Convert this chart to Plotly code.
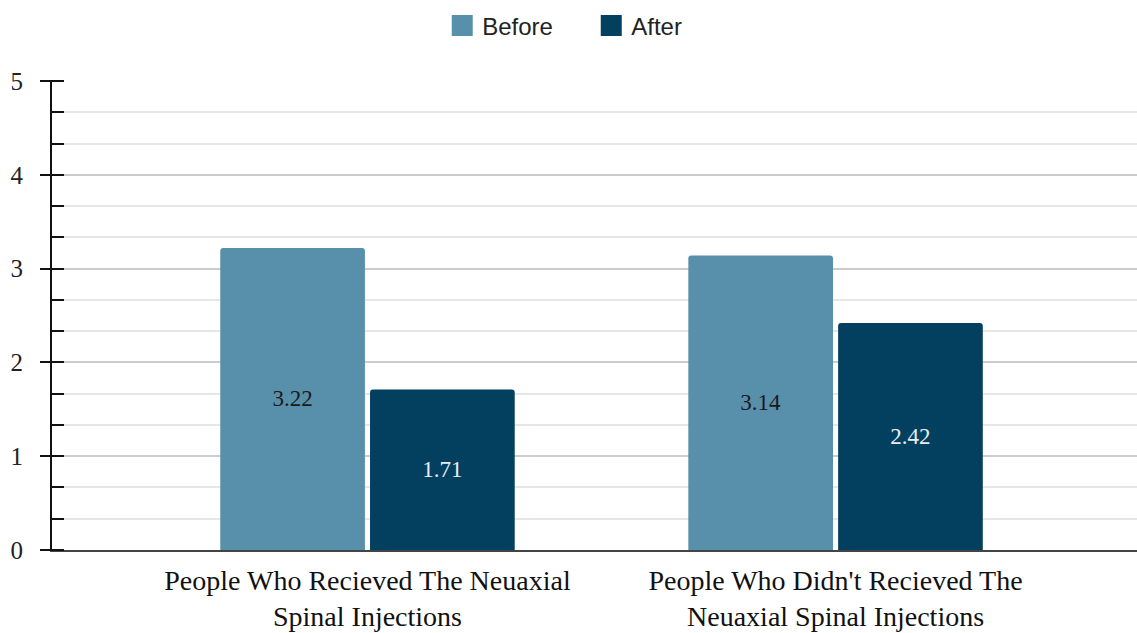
import plotly.graph_objects as go

categories = [
    "People Who Recieved The Neuaxial<br>Spinal Injections",
    "People Who Didn't Recieved The<br>Neuaxial Spinal Injections",
]
before_values = [3.22, 3.14]
after_values = [1.71, 2.42]
series_names = ["Before", "After"]
series_colors = ["#5890ab", "#03405f"]
label_colors = ["#1a1a1a", "#e8eef2"]

fig = go.Figure()

for name, vals, color, lab_col in zip(series_names, [before_values, after_values],
                                      series_colors, label_colors):
    fig.add_trace(go.Bar(
        x=categories, y=vals, name=name,
        marker=dict(color=color, line=dict(width=0)),
        text=[f"{v:.2f}" for v in vals],
        textposition="inside", insidetextanchor="middle",
        textfont=dict(family="Liberation Serif", size=23, color=lab_col),
        showlegend=False, hoverinfo="skip",
    ))
    # legend swatch (outline thickens the square)
    fig.add_trace(go.Scatter(
        x=[None], y=[None], mode="markers", name=name,
        marker=dict(symbol="square", size=16, color=color,
                    line=dict(width=5, color=color)),
    ))

# y2 only carries the vertical axis line
fig.add_trace(go.Scatter(x=[categories[0]], y=[0], xaxis="x", yaxis="y2", mode="markers",
                         marker=dict(opacity=0), showlegend=False, hoverinfo="skip"))

fig.update_layout(
    width=1137, height=633,
    margin=dict(l=52, r=0, t=81, b=83),
    paper_bgcolor="white", plot_bgcolor="white",
    barmode="group", bargap=0.36, bargroupgap=0.034,
    barcornerradius=3,
    legend=dict(orientation="h", x=0.497, xanchor="center", y=0.959, yanchor="middle",
                yref="container", font=dict(family="Liberation Sans", size=24, color="#222"),
                itemsizing="trace", tracegroupgap=0, itemwidth=30,
                entrywidth=104, entrywidthmode="pixels"),
    xaxis=dict(
        type="category", range=[-0.674, 1.644],
        showline=True, linecolor="#444", linewidth=2,
        ticks="", showgrid=False,
        tickfont=dict(family="Liberation Serif", size=28, color="#111"),
        ticklabelstandoff=4,
    ),
    # main axis shifted right so its long ticks straddle the axis line
    yaxis=dict(
        anchor="free", position=0, shift=12,
        range=[0, 5], dtick=1,
        showline=False,
        ticks="outside", ticklen=24, tickwidth=2, tickcolor="#111",
        showgrid=True, gridcolor="#cccccc", gridwidth=2,
        minor=dict(dtick=1/3, ticks="outside", ticklen=12, tickwidth=2, tickcolor="#111",
                   showgrid=True, gridcolor="#e6e6e6", gridwidth=2),
        tickfont=dict(family="Liberation Serif", size=25, color="#222"),
        ticklabelstandoff=12, zeroline=False,
    ),
    yaxis2=dict(
        overlaying="y", anchor="x", side="left", range=[0, 5], dtick=1,
        showline=True, linecolor="#111", linewidth=2,
        showgrid=False, showticklabels=False, zeroline=False, ticks="",
    ),
)

fig.write_html("out.html")
